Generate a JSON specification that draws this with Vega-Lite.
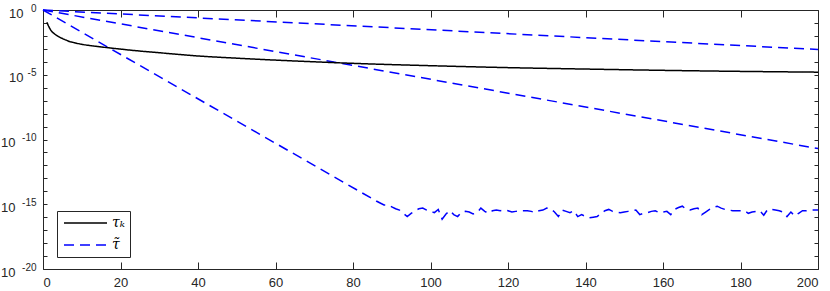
{
  "$schema": "https://vega.github.io/schema/vega-lite/v6.json",
  "width": 775,
  "height": 259,
  "autosize": {"type": "none"},
  "padding": {"left": 43, "top": 10, "right": 12, "bottom": 22},
  "background": "white",
  "config": {
    "view": {"stroke": null},
    "axis": {
      "grid": false,
      "domainColor": "#262626",
      "tickColor": "#262626",
      "labelColor": "#262626",
      "labelFont": "Liberation Sans",
      "labelFontSize": 13,
      "tickSize": -5,
      "domainWidth": 1,
      "tickWidth": 1
    },
    "legend": {
      "orient": "none",
      "legendX": 14,
      "legendY": 201,
      "strokeColor": "#262626",
      "fillColor": "white",
      "padding": 5,
      "symbolType": "M-1,0H7.6",
      "symbolSize": 100,
      "symbolStrokeWidth": 1.5,
      "labelOffset": 36,
      "labelFont": "DejaVu Serif",
      "labelFontStyle": "italic",
      "labelFontSize": 14,
      "labelColor": "#000000",
      "rowPadding": 8
    }
  },
  "datasets": {
    "tau": [
      {"k": 1, "v": 0.1122}, {"k": 2, "v": 0.02818}, {"k": 3, "v": 0.01413}, {"k": 4, "v": 0.008913},
      {"k": 5, "v": 0.00631}, {"k": 6, "v": 0.004677}, {"k": 7, "v": 0.003548}, {"k": 8, "v": 0.00302},
      {"k": 10, "v": 0.002239}, {"k": 12, "v": 0.00182}, {"k": 15, "v": 0.001413}, {"k": 20, "v": 0.000955},
      {"k": 25, "v": 0.0006761}, {"k": 30, "v": 0.0005012}, {"k": 40, "v": 0.0002818}, {"k": 50, "v": 0.0001905},
      {"k": 60, "v": 0.0001349}, {"k": 70, "v": 0.0001}, {"k": 80, "v": 7.586e-5}, {"k": 100, "v": 5.012e-5},
      {"k": 120, "v": 3.548e-5}, {"k": 140, "v": 2.754e-5}, {"k": 160, "v": 2.188e-5}, {"k": 180, "v": 1.82e-5},
      {"k": 200, "v": 1.585e-5}
    ],
    "tilde": [
      {"line": "a", "k": 0, "v": 1}, {"line": "a", "k": 200, "v": 8.913e-4},
      {"line": "b", "k": 0, "v": 1}, {"line": "b", "k": 200, "v": 1.995e-11},
      {"line": "c", "k": 0, "v": 1}, {"line": "c", "k": 86, "v": 1.778e-15},
      {"line": "c", "k": 87, "v": 1.259e-15}, {"line": "c", "k": 88, "v": 8.913e-16},
      {"line": "c", "k": 89, "v": 8.913e-16}, {"line": "c", "k": 90, "v": 6.31e-16},
      {"line": "c", "k": 91, "v": 4.467e-16}, {"line": "c", "k": 92, "v": 3.548e-16},
      {"line": "c", "k": 93, "v": 1.995e-16}, {"line": "c", "k": 94, "v": 1.122e-16},
      {"line": "c", "k": 95, "v": 1.995e-16}, {"line": "c", "k": 96, "v": 3.162e-16},
      {"line": "c", "k": 97, "v": 4.467e-16}, {"line": "c", "k": 98, "v": 5.012e-16},
      {"line": "c", "k": 99, "v": 3.548e-16}, {"line": "c", "k": 100, "v": 2.818e-16},
      {"line": "c", "k": 101, "v": 2.239e-16}, {"line": "c", "k": 102, "v": 3.981e-16},
      {"line": "c", "k": 103, "v": 7.079e-17}, {"line": "c", "k": 104, "v": 1.778e-16},
      {"line": "c", "k": 105, "v": 3.162e-16}, {"line": "c", "k": 106, "v": 1.585e-16},
      {"line": "c", "k": 107, "v": 1.122e-16}, {"line": "c", "k": 108, "v": 2.512e-16},
      {"line": "c", "k": 109, "v": 2.818e-16}, {"line": "c", "k": 110, "v": 2.512e-16},
      {"line": "c", "k": 111, "v": 1.778e-16}, {"line": "c", "k": 112, "v": 2.239e-16},
      {"line": "c", "k": 113, "v": 5.012e-16}, {"line": "c", "k": 114, "v": 2.818e-16},
      {"line": "c", "k": 115, "v": 1.995e-16}, {"line": "c", "k": 116, "v": 3.162e-16},
      {"line": "c", "k": 117, "v": 3.548e-16}, {"line": "c", "k": 118, "v": 3.162e-16},
      {"line": "c", "k": 119, "v": 3.548e-16}, {"line": "c", "k": 120, "v": 3.162e-16},
      {"line": "c", "k": 121, "v": 2.512e-16}, {"line": "c", "k": 122, "v": 2.818e-16},
      {"line": "c", "k": 123, "v": 3.162e-16}, {"line": "c", "k": 124, "v": 3.162e-16},
      {"line": "c", "k": 125, "v": 3.162e-16}, {"line": "c", "k": 126, "v": 2.818e-16},
      {"line": "c", "k": 127, "v": 2.239e-16}, {"line": "c", "k": 128, "v": 3.162e-16},
      {"line": "c", "k": 129, "v": 3.548e-16}, {"line": "c", "k": 130, "v": 5.012e-16},
      {"line": "c", "k": 131, "v": 4.467e-16}, {"line": "c", "k": 132, "v": 2.512e-16},
      {"line": "c", "k": 133, "v": 1.122e-16}, {"line": "c", "k": 134, "v": 3.548e-16},
      {"line": "c", "k": 135, "v": 2.818e-16}, {"line": "c", "k": 136, "v": 2.239e-16},
      {"line": "c", "k": 137, "v": 3.162e-16}, {"line": "c", "k": 138, "v": 1.122e-16},
      {"line": "c", "k": 139, "v": 1.585e-16}, {"line": "c", "k": 140, "v": 1.122e-16},
      {"line": "c", "k": 141, "v": 8.913e-17}, {"line": "c", "k": 142, "v": 1e-16},
      {"line": "c", "k": 143, "v": 1.122e-16}, {"line": "c", "k": 144, "v": 1.995e-16},
      {"line": "c", "k": 145, "v": 3.162e-16}, {"line": "c", "k": 146, "v": 3.981e-16},
      {"line": "c", "k": 147, "v": 2.818e-16}, {"line": "c", "k": 148, "v": 2.512e-16},
      {"line": "c", "k": 149, "v": 2.239e-16}, {"line": "c", "k": 150, "v": 2.512e-16},
      {"line": "c", "k": 151, "v": 2.818e-16}, {"line": "c", "k": 152, "v": 3.162e-16},
      {"line": "c", "k": 153, "v": 3.548e-16}, {"line": "c", "k": 154, "v": 1.585e-16},
      {"line": "c", "k": 155, "v": 1.995e-16}, {"line": "c", "k": 156, "v": 2.239e-16},
      {"line": "c", "k": 157, "v": 2.818e-16}, {"line": "c", "k": 158, "v": 3.162e-16},
      {"line": "c", "k": 159, "v": 2.239e-16}, {"line": "c", "k": 160, "v": 2.512e-16},
      {"line": "c", "k": 161, "v": 2.818e-16}, {"line": "c", "k": 162, "v": 1.585e-16},
      {"line": "c", "k": 163, "v": 3.981e-16}, {"line": "c", "k": 164, "v": 5.623e-16},
      {"line": "c", "k": 165, "v": 7.079e-16}, {"line": "c", "k": 166, "v": 3.981e-16},
      {"line": "c", "k": 167, "v": 3.548e-16}, {"line": "c", "k": 168, "v": 4.467e-16},
      {"line": "c", "k": 169, "v": 5.012e-16}, {"line": "c", "k": 170, "v": 1.585e-16},
      {"line": "c", "k": 171, "v": 2.512e-16}, {"line": "c", "k": 172, "v": 3.981e-16},
      {"line": "c", "k": 173, "v": 5.623e-16}, {"line": "c", "k": 174, "v": 7.079e-16},
      {"line": "c", "k": 175, "v": 5.012e-16}, {"line": "c", "k": 176, "v": 3.981e-16},
      {"line": "c", "k": 177, "v": 3.548e-16}, {"line": "c", "k": 178, "v": 3.162e-16},
      {"line": "c", "k": 179, "v": 3.162e-16}, {"line": "c", "k": 180, "v": 3.162e-16},
      {"line": "c", "k": 181, "v": 3.162e-16}, {"line": "c", "k": 182, "v": 1.995e-16},
      {"line": "c", "k": 183, "v": 2.512e-16}, {"line": "c", "k": 184, "v": 2.818e-16},
      {"line": "c", "k": 185, "v": 3.162e-16}, {"line": "c", "k": 186, "v": 1.413e-16},
      {"line": "c", "k": 187, "v": 3.981e-16}, {"line": "c", "k": 188, "v": 3.981e-16},
      {"line": "c", "k": 189, "v": 3.548e-16}, {"line": "c", "k": 190, "v": 3.162e-16},
      {"line": "c", "k": 191, "v": 2.512e-16}, {"line": "c", "k": 192, "v": 1.122e-16},
      {"line": "c", "k": 193, "v": 2.512e-16}, {"line": "c", "k": 194, "v": 1.259e-16},
      {"line": "c", "k": 195, "v": 1.995e-16}, {"line": "c", "k": 196, "v": 3.162e-16},
      {"line": "c", "k": 197, "v": 3.162e-16}, {"line": "c", "k": 198, "v": 3.548e-16},
      {"line": "c", "k": 199, "v": 3.548e-16}, {"line": "c", "k": 200, "v": 3.548e-16}
    ]
  },
  "layer": [
    {
      "data": {"name": "tilde"},
      "mark": {"type": "line", "strokeWidth": 1.5},
      "encoding": {
        "x": {
          "field": "k", "type": "quantitative",
          "scale": {"domain": [0, 200], "nice": false, "zero": false},
          "axis": {"orient": "top", "labels": false, "title": null, "tickSize": -7, "values": [0, 20, 40, 60, 80, 100, 120, 140, 160, 180, 200]}
        },
        "y": {
          "field": "v", "type": "quantitative",
          "scale": {"type": "log", "domain": [1e-20, 1], "nice": false},
          "axis": {"orient": "right", "labels": false, "title": null, "tickSize": -4,
            "values": [1, 1e-1, 1e-2, 1e-3, 1e-4, 1e-5, 1e-6, 1e-7, 1e-8, 1e-9, 1e-10, 1e-11, 1e-12, 1e-13, 1e-14, 1e-15, 1e-16, 1e-17, 1e-18, 1e-19, 1e-20]}
        },
        "detail": {"field": "line"},
        "color": {"datum": "τ̃", "type": "nominal", "scale": {"domain": ["τₖ", "τ̃"], "range": ["#000000", "#0000ff"]}, "legend": {"title": null}},
        "strokeDash": {"datum": "τ̃", "type": "nominal", "scale": {"domain": ["τₖ", "τ̃"], "range": [[1, 0], [10, 6]]}, "legend": {"title": null}}
      }
    },
    {
      "data": {"name": "tau"},
      "mark": {"type": "line", "strokeWidth": 1.5, "interpolate": "monotone"},
      "encoding": {
        "x": {
          "field": "k", "type": "quantitative",
          "scale": {"domain": [0, 200], "nice": false, "zero": false},
          "axis": {"orient": "bottom", "title": null, "tickSize": -7, "labelPadding": 14, "values": [0, 20, 40, 60, 80, 100, 120, 140, 160, 180, 200]}
        },
        "y": {
          "field": "v", "type": "quantitative",
          "scale": {"type": "log", "domain": [1e-20, 1], "nice": false},
          "axis": {"orient": "left", "title": null, "tickSize": -4, "labelOffset": 3,
            "labelPadding": {"condition": [{"test": "round(log(datum.value)/LN10) > -6", "value": 24}], "value": 32},
            "values": [1, 1e-1, 1e-2, 1e-3, 1e-4, 1e-5, 1e-6, 1e-7, 1e-8, 1e-9, 1e-10, 1e-11, 1e-12, 1e-13, 1e-14, 1e-15, 1e-16, 1e-17, 1e-18, 1e-19, 1e-20],
            "labelExpr": "round(log(datum.value)/LN10) % 5 === 0 ? '10' : ''"}
        },
        "color": {"datum": "τₖ", "type": "nominal", "legend": {"title": null}},
        "strokeDash": {"datum": "τₖ", "type": "nominal", "legend": {"title": null}}
      }
    },
    {
      "data": {"name": "tau"},
      "mark": {"type": "line", "opacity": 0},
      "encoding": {
        "x": {"field": "k", "type": "quantitative", "axis": null},
        "y": {
          "field": "v", "type": "quantitative",
          "axis": {"orient": "left", "title": null, "ticks": false, "domain": false, "labelOffset": -2,
            "labelFontSize": 10, "labelPadding": 7,
            "values": [1, 1e-5, 1e-10, 1e-15, 1e-20],
            "labelExpr": "round(log(datum.value)/LN10) === 0 ? '0' : '' + round(log(datum.value)/LN10)"}
        }
      }
    }
  ],
  "resolve": {"axis": {"x": "independent", "y": "independent"}}
}
